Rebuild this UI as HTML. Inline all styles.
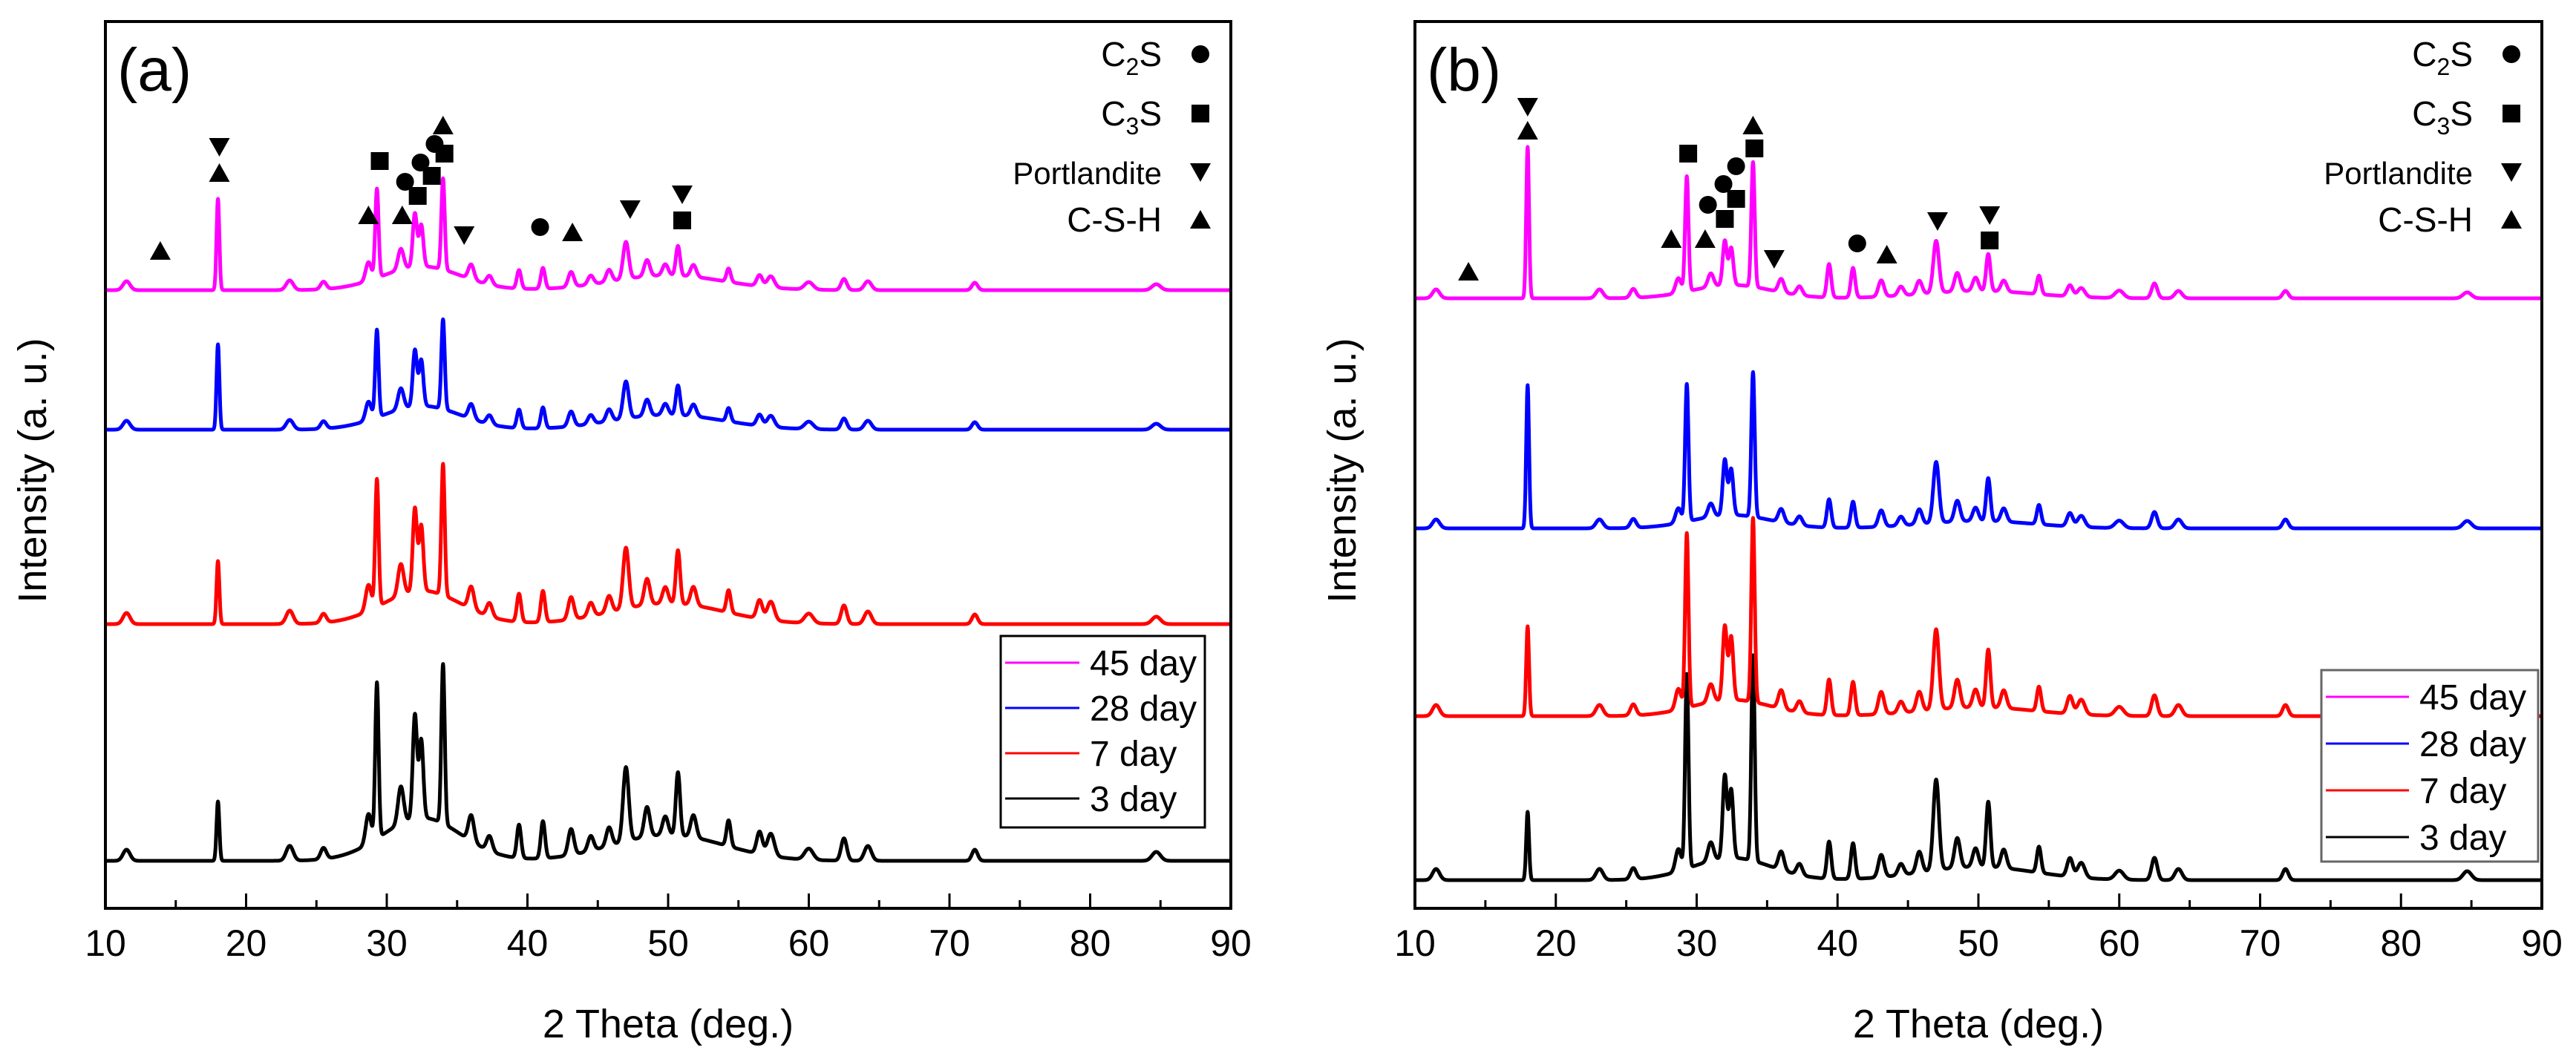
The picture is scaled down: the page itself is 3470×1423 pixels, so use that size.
<!DOCTYPE html>
<html><head><meta charset="utf-8">
<style>
html,body{margin:0;padding:0;background:#fff;}
svg{display:block;font-family:"Liberation Sans",Arial,sans-serif;}
</style></head>
<body>
<svg id="chart" width="3470" height="1423" viewBox="0 0 3470 1423" xmlns="http://www.w3.org/2000/svg"></svg>
<script>
// ---- data ----
const peakPos = [11.5,18.0,23.1,25.5,28.7,29.3,31.0,32.0,32.45,34.0,36.0,37.3,39.4,41.1,43.1,44.5,45.8,47.0,48.5,49.8,50.7,51.8,54.3,56.5,57.3,60.0,62.5,64.2,71.8,84.7,32.5,50.0];
const peakWid = [0.25,0.1,0.25,0.2,0.2,0.12,0.2,0.15,0.15,0.12,0.2,0.2,0.15,0.15,0.2,0.2,0.2,0.2,0.2,0.2,0.15,0.2,0.15,0.2,0.25,0.3,0.2,0.25,0.2,0.3,2.8,4];
const seriesNames = ["3 day","7 day","28 day","45 day"];
const seriesColors = ["#000000","#ff0000","#0000ff","#ff00ff"];
const a3  = [15,80,20,15,40,210,50,140,105,215,35,20,45,50,35,20,25,100,40,25,85,30,35,30,30,15,30,20,15,12,58,35];
const a7  = [15,85,18,12,35,172,42,112,88,177,30,18,38,42,30,18,22,82,35,22,72,25,30,25,25,13,25,17,13,10,45,28];
const a28 = [12,115,13,10,25,118,28,76,62,121,20,12,25,28,20,12,16,50,22,15,40,16,18,15,15,10,15,12,10,8,32,20];
const a45 = [12,123,13,10,25,120,28,72,56,123,20,12,25,28,20,12,16,50,22,15,40,16,18,15,15,10,15,12,10,8,32,20];
const aOffsets = [64,383,645,833];
const b3  = [15,92,15,15,30,262,25,112,92,277,25,15,50,48,30,15,28,122,40,25,88,25,35,25,20,12,30,15,15,12,30,18];
const b7  = [15,121,15,15,28,235,24,100,85,248,25,15,48,45,30,15,26,108,38,24,78,24,33,24,20,12,28,15,15,12,22,12];
const b28 = [12,193,12,12,20,185,18,75,62,195,18,12,38,35,22,12,20,82,28,18,58,18,26,18,15,10,22,12,12,10,18,10];
const b45 = [12,204,12,12,20,155,18,60,50,168,18,12,45,40,22,12,18,70,25,18,50,15,25,15,12,10,20,10,10,8,18,10];
const bOffsets = [38,259,512,822];
const xTicks = [10,20,30,40,50,60,70,80,90];
// annotation markers: [type, 2theta, intensity]
const aMarks = [["up",13.9,886],["down",18.1,1026],["up",18.1,991],["sq",29.5,1007],["up",28.7,934],["up",31.1,934],
 ["circ",31.3,979],["circ",32.4,1005],["circ",33.4,1030],["sq",32.2,960],["sq",33.2,987],["sq",34.1,1017],["up",34.0,1055],
 ["down",35.5,907],["circ",40.9,918],["up",43.2,911],["down",47.3,942],["down",51.0,962],["sq",51.0,927]];
const bMarks = [["up",13.8,858],["down",18.0,1080],["up",18.0,1048],["sq",29.4,1017],["up",28.2,902],["up",30.6,902],
 ["circ",30.8,948],["circ",31.9,976],["circ",32.8,1000],["sq",32.0,929],["sq",32.8,956],["sq",34.1,1024],["up",34.0,1055],
 ["down",35.5,875],["circ",41.4,896],["up",43.5,881],["down",47.1,926],["down",50.8,934],["sq",50.8,900]];

const NS="http://www.w3.org/2000/svg";
const svg=document.getElementById('chart');
function el(tag,attrs,parent){const e=document.createElementNS(NS,tag);for(const k in attrs)e.setAttribute(k,attrs[k]);(parent||svg).appendChild(e);return e;}

function panel(cfg){
  const L=cfg.left,R=cfg.right,T=29,B=1224;
  const g=el('g',{});
  
  
  const xs=v=>L+(v-10)/80*(R-L);
  const ys=v=>B-v*(B-T)/1195;
  cfg.series.forEach((h,si)=>{
    let d="";
    for(let x=10;x<=90.0001;x+=0.02){
      let y=cfg.offsets[si];
      for(let i=0;i<peakPos.length;i++){const z=(x-peakPos[i])/peakWid[i];if(Math.abs(z)<6)y+=h[i]*Math.exp(-0.5*z*z);}
      d+=(d?"L":"M")+xs(x).toFixed(1)+","+ys(y).toFixed(1);
    }
    const p=el('path',{d:d,fill:'none',stroke:seriesColors[si],'stroke-width':5,'stroke-linejoin':'round'},g);
    
    
  });
  const fr=el('rect',{x:L,y:T,width:R-L,height:B-T,fill:'none',stroke:'#000','stroke-width':4},g);
  
  
  for(let v=10;v<=90;v+=5){
    const major=v%10===0;
    const t=el('line',{x1:xs(v),x2:xs(v),y1:B,y2:B-(major?20:11),stroke:'#000','stroke-width':3},g);
    
    
  }
  xTicks.forEach(v=>{
    const t=el('text',{x:xs(v),y:1288,'font-size':50,'text-anchor':'middle'},g);
    t.textContent=v;
    
    
  });
  const xt=el('text',{x:(L+R)/2,y:1398,'font-size':54,'text-anchor':'middle'},g);
  xt.textContent="2 Theta (deg.)";
  
  
  const yt=el('text',{x:0,y:0,'font-size':54,'text-anchor':'middle',transform:`translate(${cfg.ylx},634) rotate(-90)`},g);
  yt.textContent="Intensity (a. u.)";
  
  
  const pl=el('text',{x:L+16,y:122,'font-size':82},g);
  pl.textContent=cfg.label;
  
  
  const drawMark=(type,cx,cy,parent)=>{
    const s=12;let m;
    if(type==='circ')m=el('circle',{cx:cx,cy:cy,r:s,fill:'#000'},parent);
    else if(type==='sq')m=el('rect',{x:cx-s,y:cy-s,width:2*s,height:2*s,fill:'#000'},parent);
    else if(type==='up')m=el('polygon',{points:`${cx-14},${cy+12} ${cx+14},${cy+12} ${cx},${cy-13}`,fill:'#000'},parent);
    else m=el('polygon',{points:`${cx-14},${cy-12} ${cx+14},${cy-12} ${cx},${cy+13}`,fill:'#000'},parent);
    return m;
  };
  cfg.marks.forEach(mk=>{
    const m=drawMark(mk[0],xs(mk[1]),ys(mk[2]),g);
    
    
  });
  const ph=[["C","2","S","circ",73],["C","3","S","sq",153],["Portlandite","","","down",232],["C-S-H","","","up",296]];
  ph.forEach(p=>{
    const t=el('text',{x:R-93,y:p[4]+16,'font-size':46,'text-anchor':'end'},g);
    if(p[1]){
      const a=el('tspan',{},t);a.textContent=p[0];
      const b=el('tspan',{'font-size':32,dy:12},t);b.textContent=p[1];
      const c=el('tspan',{dy:-12},t);c.textContent=p[2];
    } else {t.textContent=p[0]; if(p[0]==='Portlandite')t.setAttribute('font-size',42);}
    
    
    const m=drawMark(p[3],R-41,p[4],g);
    
    
  });
  const lg=el('g',{},g);
  
  
  const c=cfg.leg;
  el('rect',{x:c.x,y:c.y,width:c.w,height:c.h,fill:'#fff',stroke:c.stroke,'stroke-width':3},lg);
  [3,2,1,0].forEach((si,k)=>{
    const yy=c.ry+k*c.dy;
    const ln=el('line',{x1:c.x+6,x2:c.x+6+c.lw,y1:yy,y2:yy,stroke:seriesColors[si],'stroke-width':3},lg);
    
    
    const t=el('text',{x:c.x+c.lw+20,y:yy+17,'font-size':48},lg);
    t.textContent=seriesNames[si];
    
    
  });
}

panel({name:'panel-a',label:'(a)',left:142,right:1658,ylx:62,series:[a3,a7,a28,a45],offsets:aOffsets,marks:aMarks,
  leg:{x:1348,y:857,w:275,h:258,stroke:'#000',ry:893,dy:61,lw:100}});
panel({name:'panel-b',label:'(b)',left:1906,right:3424,ylx:1826,series:[b3,b7,b28,b45],offsets:bOffsets,marks:bMarks,
  leg:{x:3127,y:903,w:292,h:258,stroke:'#666',ry:939,dy:63,lw:112}});
</script>
</body></html>
